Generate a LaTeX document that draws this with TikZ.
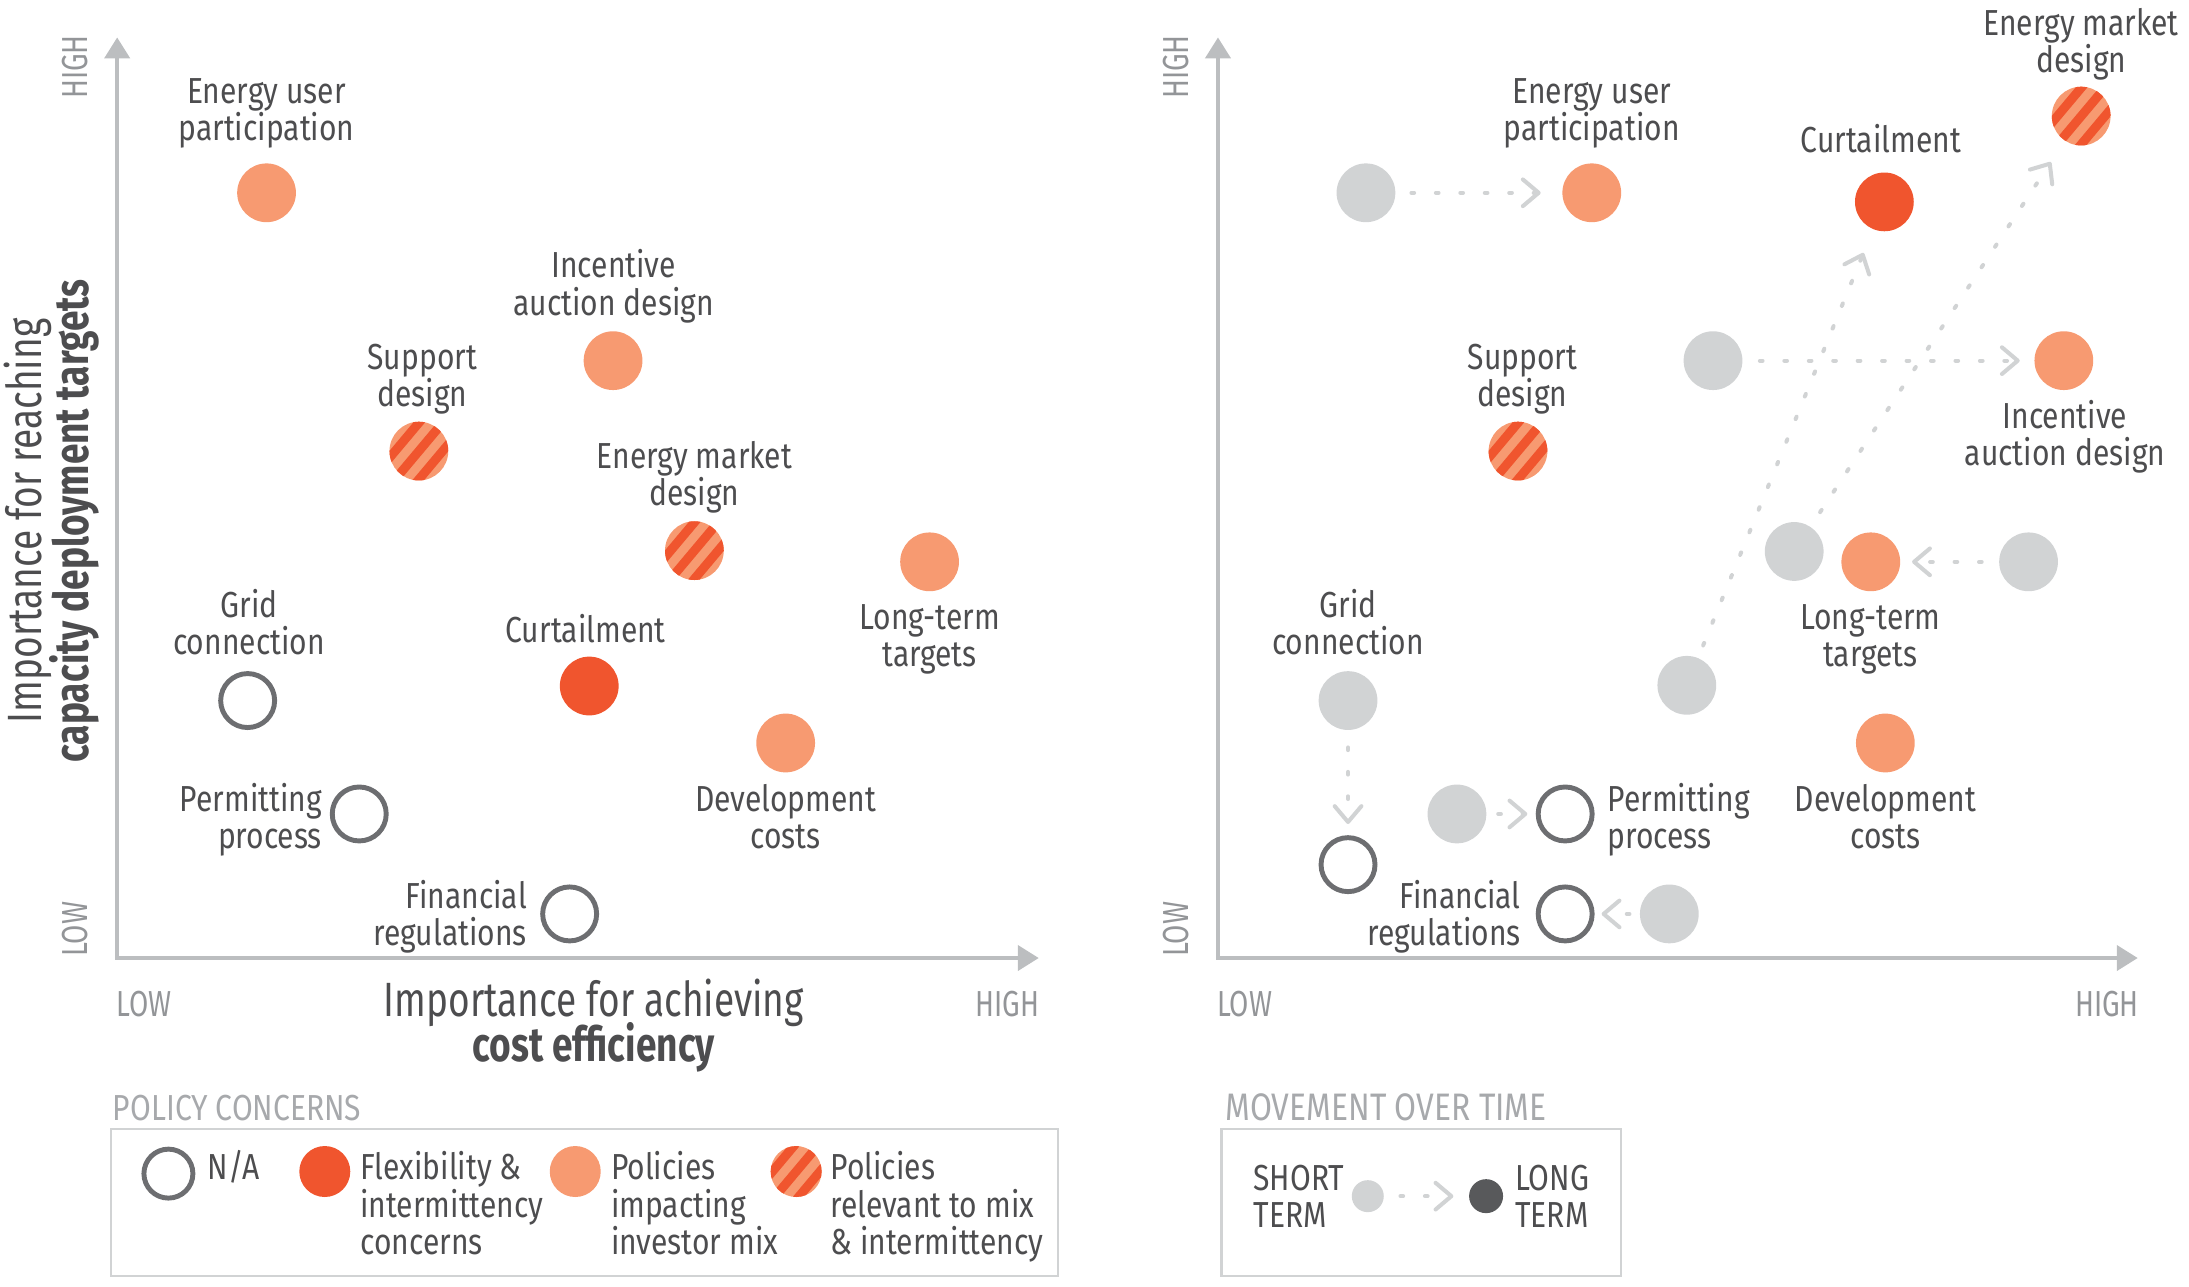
\documentclass[tikz,border=0pt]{standalone}
\usepackage{fontspec}
\setmainfont{Fira Sans}[FakeStretch=0.83]
\newfontfamily\titlefont{Fira Sans}[FakeStretch=0.77]
\usetikzlibrary{arrows.meta}

\definecolor{lor}{HTML}{F79A71}
\definecolor{dor}{HTML}{F0552E}
\definecolor{gc}{HTML}{D1D3D4}
\definecolor{ring}{HTML}{6D6E71}
\definecolor{ax}{HTML}{BCBEC0}
\definecolor{txt}{HTML}{4D4D4F}
\definecolor{hl}{HTML}{939598}
\definecolor{lt}{HTML}{A7A9AC}
\definecolor{dk}{HTML}{58595B}
\definecolor{boxc}{HTML}{D1D3D4}

\newcommand\lblc[1]{\vtop{\lineskiplimit=-\maxdimen\halign{\hfil##\hfil\cr#1\crcr}}}
\newcommand\lblr[1]{\vtop{\lineskiplimit=-\maxdimen\halign{\hfil##\cr#1\crcr}}}
\newcommand\lbll[1]{\vtop{\lineskiplimit=-\maxdimen\halign{##\hfil\cr#1\crcr}}}

\tikzset{
  dotc/.style={circle, inner sep=0pt, minimum size=0.588cm},
  lo/.style={dotc, fill=lor},
  do/.style={dotc, fill=dor},
  gr/.style={dotc, fill=gc},
  na/.style={circle, inner sep=0pt, minimum size=0.54cm, draw=ring, line width=1.4pt},
  st/.style={dotc, fill=lor, path picture={
      \foreach \k in {-2,...,2}{
        \draw[dor, line width=0.09cm]
          ([shift={(40:\k*13)}]path picture bounding box.center) +(-50:30) -- +(130:30);
      }}},
  lab/.style={font=\fontsize{10.3}{10.6}\selectfont, text=txt, inner sep=0pt},
  axl/.style={font=\titlefont\fontsize{10.3}{10.6}\selectfont, text=hl, inner sep=0pt},
  ltl/.style={font=\fontsize{10.3}{10.6}\selectfont, text=lt, inner sep=0pt},
  ttlx/.style={font=\titlefont\fontsize{13.7}{12.6}\selectfont, text=txt, inner sep=0pt},
  ttly/.style={font=\titlefont\fontsize{13.7}{13.3}\selectfont, text=txt, inner sep=0pt},
  axis/.style={draw=ax, line width=1.2pt, {Triangle[length=0.21cm,width=0.25cm]}-{Triangle[length=0.21cm,width=0.25cm]}},
  mv/.style={draw=gc, line width=1.15pt, dash pattern=on 0.76pt off 6.2pt, line cap=round,
     -{Straight Barb[length=4.5pt,width=7.6pt,round]}, shorten <=0.154cm, shorten >=0.154cm},
  lbox/.style={draw=boxc, line width=0.7pt},
}

\begin{document}
\begin{tikzpicture}[x=0.014cm,y=-0.014cm]
\useasboundingbox (0,0) rectangle (1563.6,918.6);

% ================= LEFT CHART =================
\coordinate (O1) at (83.7,684.3);
\coordinate (Y1) at (83.7,26.7);
\coordinate (X1) at (742,684.3);
\draw[axis] (Y1) -- (O1) -- (X1);

\node[axl, rotate=90, anchor=base west] (hi1) at (62.6,71.1) {HIGH};
\node[axl, rotate=90, anchor=base west] (lo1) at (62.6,683.8) {LOW};
\node[axl, anchor=base west] (xlo1) at (82.7,726.4) {LOW};
\node[axl, anchor=base east] (xhi1) at (743,726.4) {HIGH};

\node[ttly, rotate=90, anchor=base] (yt1) at (29.8,372) {\lblc{Importance for reaching\cr\textbf{capacity deployment targets}}};
\node[ttlx, anchor=base] (xt1) at (424.2,726.4) {\lblc{Importance for achieving\cr\textbf{cost efficiency}}};

\node[lo] (eu1) at (190.4,137.7) {};
\node[lo] (ia1) at (437.9,257.6) {};
\node[st] (sd1) at (299.2,322.2) {};
\node[st] (emd1) at (496,393.3) {};
\node[lo] (lt1) at (664,401.3) {};
\node[na] (gc1) at (176.9,500.4) {};
\node[do] (cu1) at (420.9,490) {};
\node[lo] (dc1) at (561.2,530.7) {};
\node[na] (pp1) at (256.6,581.4) {};
\node[na] (fr1) at (406.9,652.8) {};

\node[lab, anchor=base] (teu1) at (190.4,74) {\lblc{Energy user\cr participation}};
\node[lab, anchor=base] (tia1) at (438.4,198.4) {\lblc{Incentive\cr auction design}};
\node[lab, anchor=base] (tsd1) at (301.6,263.6) {\lblc{Support\cr design}};
\node[lab, anchor=base] (temd1) at (496,334.6) {\lblc{Energy market\cr design}};
\node[lab, anchor=base] (tlt1) at (664,449.4) {\lblc{Long-term\cr targets}};
\node[lab, anchor=base] (tgc1) at (177.9,441.2) {\lblc{Grid\cr connection}};
\node[lab, anchor=base] (tcu1) at (418.4,459) {Curtailment};
\node[lab, anchor=base] (tdc1) at (561.2,579.3) {\lblc{Development\cr costs}};
\node[lab, anchor=base east] (tpp1) at (230.5,579.3) {\lblr{Permitting\cr process}};
\node[lab, anchor=base east] (tfr1) at (376.8,649) {\lblr{Financial\cr regulations}};

% legend left
\node[ltl, anchor=base west] (lgt1) at (80.2,800) {POLICY CONCERNS};
\draw[lbox] (79.2,806.5) rectangle (755.6,911.3);
\node[na, minimum size=0.49cm] (lg1) at (120.3,838.3) {};
\node[do, minimum size=0.51cm] (lg2) at (232,836.8) {};
\node[lo, minimum size=0.51cm] (lg3) at (410.9,836.8) {};
\node[st, minimum size=0.51cm] (lg4) at (568.7,836.8) {};
\node[lab, anchor=base west] (tlg1) at (147.8,842.7) {N/A};
\node[lab, anchor=base west] (tlg2) at (257,842.7) {\lbll{Flexibility \&\cr intermittency\cr concerns}};
\node[lab, anchor=base west] (tlg3) at (436,842.7) {\lbll{Policies\cr impacting\cr investor mix}};
\node[lab, anchor=base west] (tlg4) at (592.8,842.7) {\lbll{Policies\cr relevant to mix\cr \& intermittency}};

% ================= RIGHT CHART =================
\coordinate (O2) at (870,684.3);
\coordinate (Y2) at (870,26.7);
\coordinate (X2) at (1527,684.3);
\draw[axis] (Y2) -- (O2) -- (X2);

\node[axl, rotate=90, anchor=base west] (hi2) at (848.9,71.1) {HIGH};
\node[axl, rotate=90, anchor=base west] (lo2) at (848.9,683.8) {LOW};
\node[axl, anchor=base west] (xlo2) at (869,726.4) {LOW};
\node[axl, anchor=base east] (xhi2) at (1528.3,726.4) {HIGH};

\node[gr] (g1) at (975.7,137.7) {};
\node[lo] (eu2) at (1137,137.7) {};
\node[do] (cu2) at (1346,144.2) {};
\node[st] (emd2) at (1486.6,82.9) {};
\node[gr] (g2) at (1223.6,257.6) {};
\node[lo] (ia2) at (1474.2,257.6) {};
\node[st] (sd2) at (1084.3,322.2) {};
\node[gr] (g3) at (1281.6,393.9) {};
\node[lo] (lt2) at (1336.3,401.3) {};
\node[gr] (g4) at (1449,401.3) {};
\node[gr] (g5) at (1204.9,489.5) {};
\node[lo] (dc2) at (1346.7,530.7) {};
\node[gr] (g8) at (962.9,500.4) {};
\node[na] (gc2) at (962.9,617.6) {};
\node[gr] (g6) at (1040.7,581.4) {};
\node[na] (pp2) at (1118,581.4) {};
\node[na] (fr2) at (1118,652.8) {};
\node[gr] (g7) at (1192.4,652.8) {};

\node[lab, anchor=base] (teu2) at (1137,74) {\lblc{Energy user\cr participation}};
\node[lab, anchor=base] (tcu2) at (1343.6,109) {Curtailment};
\node[lab, anchor=base] (temd2) at (1486.6,25.2) {\lblc{Energy market\cr design}};
\node[lab, anchor=base] (tsd2) at (1087.5,263.6) {\lblc{Support\cr design}};
\node[lab, anchor=base] (tia2) at (1475,305.9) {\lblc{Incentive\cr auction design}};
\node[lab, anchor=base] (tlt2) at (1336,449.4) {\lblc{Long-term\cr targets}};
\node[lab, anchor=base] (tgc2) at (962.9,441.2) {\lblc{Grid\cr connection}};
\node[lab, anchor=base] (tdc2) at (1346.7,579.3) {\lblc{Development\cr costs}};
\node[lab, anchor=base west] (tpp2) at (1147.8,579.3) {\lbll{Permitting\cr process}};
\node[lab, anchor=base east] (tfr2) at (1086.8,649) {\lblr{Financial\cr regulations}};

% movements
\draw[mv, shorten <=0.154cm, shorten >=0.21cm] (g1) -- (eu2);
\draw[mv, shorten <=0.168cm, shorten >=0.14cm] (g2) -- (ia2);
\draw[mv, shorten <=0.17cm, shorten >=0.25cm] (g3) -- (emd2);
\draw[mv, shorten <=0.13cm, shorten >=0.25cm] (g5) -- (cu2);
\draw[mv, shorten <=0.168cm, shorten >=0.112cm] (g4) -- (lt2);
\draw[mv, shorten <=0.168cm, shorten >=0.112cm] (g8) -- (gc2);
\draw[mv, shorten <=0.112cm, shorten >=0.084cm] (g6) -- (pp2);
\draw[mv, shorten <=0.098cm, shorten >=0.07cm] (g7) -- (fr2);

% legend right
\node[ltl, anchor=base west, font=\fontsize{10.9}{10.6}\selectfont] (lgt2) at (875,800) {MOVEMENT OVER TIME};
\draw[lbox] (872.5,806.5) rectangle (1157.7,911.3);
\node[gr, minimum size=0.32cm] (lsh) at (977,854.4) {};
\node[dotc, fill=dk, minimum size=0.34cm] (llg) at (1061.5,854.4) {};
\draw[mv, shorten <=0.16cm, shorten >=0.15cm] (lsh) -- (llg);
\node[lab, anchor=base west] (tsh) at (894.9,850) {\lbll{SHORT\cr TERM}};
\node[lab, anchor=base west] (tlg) at (1081.9,850) {\lbll{LONG\cr TERM}};
\end{tikzpicture}
\end{document}
